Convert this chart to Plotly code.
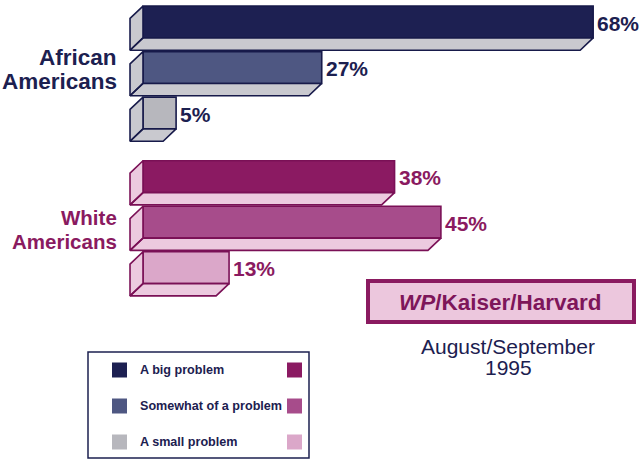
import plotly.graph_objects as go

# ---- data ----
groups = ["African Americans", "White Americans"]
categories = ["A big problem", "Somewhat of a problem", "A small problem"]
african_values = [68, 27, 5]
white_values = [38, 45, 13]
source_label = "<i>WP</i>/Kaiser/Harvard"
date_lines = ["August/September", "1995"]

# ---- style ----
W, H = 640, 461
NAVY_TXT = "#1c2050"
MAG_TXT = "#8a1a60"
styles = [
    dict(front=["#1d2052", "#4e5782", "#b7b7bd"], side="#c9c9cf", line="#171a4a", txt=NAVY_TXT,
         label_size=22.5, label_dy=-2),
    dict(front=["#8b1a62", "#a74c8b", "#dba7c9"], side="#eccadf", line="#7a1056", txt=MAG_TXT,
         label_size=20.5, label_dy=-7),
]
FRONT_H = 0.70      # front face height (slot units)
DEPTH_Y = 0.27      # 3D depth downward (slot units)
DEPTH_X = 1.96      # 3D depth leftward (percent units)
GROUP_OFFSET = 3.4  # slot offset between groups
FONT = "Liberation Sans, Arial, sans-serif"

def px(x):
    return x / W

def py(y):
    return 1 - y / H

fig = go.Figure()
annotations = []
shapes = []

all_values = [african_values, white_values]
for g, (name, vals, st) in enumerate(zip(groups, all_values, styles)):
    pos = [g * GROUP_OFFSET + i for i in range(len(vals))]
    # light 3D faces (left side + bottom)
    xs, ys = [], []
    for v, p in zip(vals, pos):
        top, bot = p - FRONT_H / 2, p + FRONT_H / 2
        xs += [0, v, v - DEPTH_X, -DEPTH_X, 0, None]
        ys += [bot, bot, bot + DEPTH_Y, bot + DEPTH_Y, bot, None]
        xs += [0, 0, -DEPTH_X, -DEPTH_X, 0, None]
        ys += [top, bot, bot + DEPTH_Y, top + DEPTH_Y, top, None]
    fig.add_trace(go.Scatter(
        x=xs, y=ys, mode="lines", fill="toself", fillcolor=st["side"],
        line=dict(color=st["line"], width=1.6), hoverinfo="skip", showlegend=False,
    ))
    # front faces
    fig.add_trace(go.Bar(
        x=vals, y=pos, orientation="h", width=FRONT_H, base=0,
        marker=dict(color=st["front"], line=dict(color=st["line"], width=1.6)),
        showlegend=False, hoverinfo="skip", name=name,
    ))
    for v, p in zip(vals, pos):
        annotations.append(dict(
            x=v, y=p, xref="x", yref="y", text=f"{v}%", showarrow=False,
            xanchor="left", yanchor="middle", xshift=2, yshift=-1,
            font=dict(family=FONT, size=21, color=st["txt"], weight="bold"),
        ))
    words = name.split(" ")
    for k, word in enumerate(words):
        annotations.append(dict(
            x=-DEPTH_X, y=pos[1], xref="x", yref="y",
            text=word, showarrow=False, align="right",
            xanchor="right", yanchor="middle", xshift=-11,
            yshift=(0.5 - k) * 24 + st["label_dy"],
            font=dict(family=FONT, size=st["label_size"], color=st["txt"], weight="bold"),
        ))

# source box
shapes.append(dict(type="rect", xref="paper", yref="paper",
                   x0=px(368), x1=px(634), y0=py(322), y1=py(281),
                   fillcolor="#ecc7dd", line=dict(color="#8a1a60", width=4)))
annotations.append(dict(x=px(500), y=py(302), xref="paper", yref="paper",
                        text=source_label, showarrow=False, xanchor="center", yanchor="middle",
                        font=dict(family=FONT, size=22.5, color="#7e165a", weight="bold")))
for k, line in enumerate(date_lines):
    annotations.append(dict(x=px(508), y=py(346 + 21 * k), xref="paper", yref="paper",
                            text=line, showarrow=False, xanchor="center", yanchor="middle",
                            font=dict(family=FONT, size=21, color=NAVY_TXT)))

# legend box
shapes.append(dict(type="rect", xref="paper", yref="paper",
                   x0=px(88), x1=px(309), y0=py(458), y1=py(352),
                   fillcolor="white", line=dict(color=NAVY_TXT, width=1.5)))
rows_y = [370, 406, 442]
for i, (cat, ry) in enumerate(zip(categories, rows_y)):
    for sx, st in zip([112, 287], styles):
        shapes.append(dict(type="rect", xref="paper", yref="paper",
                           x0=px(sx), x1=px(sx + 15), y0=py(ry + 7.5), y1=py(ry - 7.5),
                           fillcolor=st["front"][i], line=dict(width=0)))
    annotations.append(dict(x=px(138), y=py(ry), xref="paper", yref="paper",
                            text=cat, showarrow=False, xanchor="left", yanchor="middle",
                            font=dict(family=FONT, size=12.6, color=NAVY_TXT, weight="bold")))

# axes mapping: x pixel = 143 + 6.62*v ; y pixel = 22 + 45.5*p
XS, X0 = 6.62, 143
YS, Y0 = 45.5, 22
fig.update_layout(
    width=W, height=H,
    margin=dict(l=0, r=0, t=0, b=0),
    paper_bgcolor="white", plot_bgcolor="white",
    xaxis=dict(range=[-X0 / XS, (W - X0) / XS], visible=False, fixedrange=True),
    yaxis=dict(range=[(H - Y0) / YS, -Y0 / YS], visible=False, fixedrange=True),
    annotations=annotations, shapes=shapes,
    barmode="overlay",
)

fig.write_html("out.html", config={"displayModeBar": False},
               post_script="document.body.style.margin='0';document.body.style.overflow='hidden';")
